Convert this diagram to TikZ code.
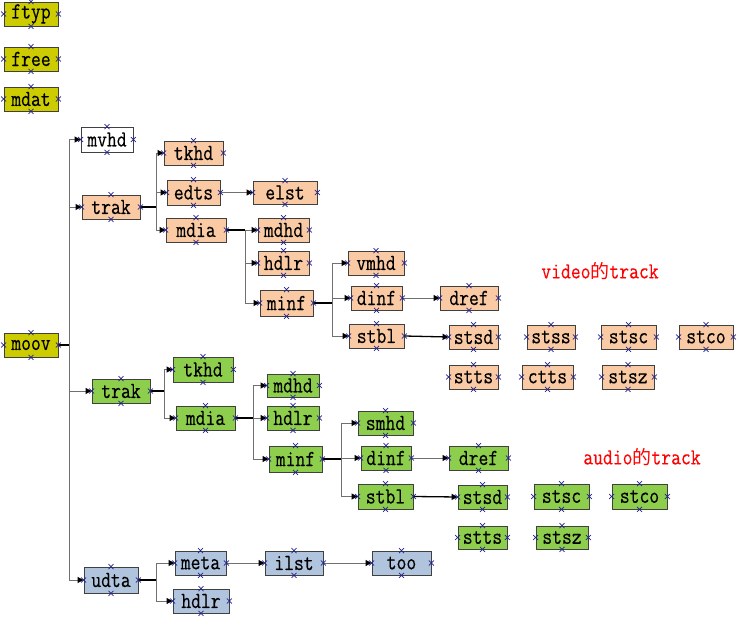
\documentclass[tikz,border=0pt]{standalone}
\usepackage{fontspec}
\newfontfamily\cjk{Noto Sans CJK SC}
\newfontfamily\boxfont{Latin Modern Mono}[FakeBold=0.4,FakeStretch=0.83]
\newfontfamily\lblfont{Latin Modern Mono}[FakeBold=0.2,FakeStretch=0.83]
\usetikzlibrary{arrows.meta}
\definecolor{yel}{HTML}{CCCC00}
\definecolor{org}{HTML}{F9CAA3}
\definecolor{grn}{HTML}{8DCF4C}
\definecolor{blu}{HTML}{B0C4DE}
\definecolor{edge}{HTML}{707070}
\definecolor{bord}{HTML}{404040}
\definecolor{cpc}{HTML}{22228C}
\newcommand\bx[7]{\node[box,#2,minimum width={(#4-#3)*1pt},minimum height={(#6-#5)*1pt}] (#1) at ({(#3+#4)/2},{(#5+#6)/2}) {#7};}
\begin{document}
\begin{tikzpicture}[x=1pt,y=-1pt,
  box/.style={draw=bord,line width=0.9pt,inner sep=0pt,font=\fontsize{23}{25}\selectfont\boxfont},
  yb/.style={fill=yel},
  ob/.style={fill=org},
  gb/.style={fill=grn},
  bb/.style={fill=blu},
  wb/.style={fill=white},
  conn/.style={draw=edge,line width=0.9pt,-{Triangle[length=6pt,width=6pt,color=black,fill=black]}},
  stem/.style={draw=black,line width=1.6pt},
  cp/.style={draw=cpc,line width=0.7pt},
  lbl/.style={text=red,font=\fontsize{23}{25}\selectfont\lblfont}]
\useasboundingbox (0,0) rectangle (739,620);
% boxes
\bx{ftyp}{yb}{4}{58}{2}{26}{ftyp}
\bx{free}{yb}{4}{58}{47}{71}{free}
\bx{mdat}{yb}{4}{58}{87}{111}{mdat}
\bx{mvhd}{wb}{81}{133}{127}{152}{mvhd}
\bx{trakv}{ob}{82}{140}{195}{219}{trak}
\bx{tkhdv}{ob}{164}{223}{141}{165}{tkhd}
\bx{edts}{ob}{167}{220}{180}{205}{edts}
\bx{mdiav}{ob}{166}{226}{218}{242}{mdia}
\bx{elst}{ob}{253}{317}{181}{204}{elst}
\bx{mdhdv}{ob}{258}{309}{218}{242}{mdhd}
\bx{hdlrv}{ob}{258}{309}{251}{275}{hdlr}
\bx{minfv}{ob}{260}{313}{290}{316}{minf}
\bx{vmhd}{ob}{348}{404}{251}{275}{vmhd}
\bx{dinfv}{ob}{351}{402}{286}{310}{dinf}
\bx{stblv}{ob}{349}{404}{324}{348}{stbl}
\bx{drefv}{ob}{440}{498}{286}{310}{dref}
\bx{stsdv}{ob}{449}{498}{325}{349}{stsd}
\bx{stss}{ob}{527}{575}{325}{349}{stss}
\bx{stscv}{ob}{601}{656}{325}{349}{stsc}
\bx{stcov}{ob}{679}{733}{325}{349}{stco}
\bx{sttsv}{ob}{449}{498}{365}{389}{stts}
\bx{ctts}{ob}{522}{573}{365}{389}{ctts}
\bx{stszv}{ob}{602}{654}{365}{389}{stsz}
\bx{moov}{yb}{4}{58}{333}{357}{moov}
\bx{traka}{gb}{92}{150}{379}{403}{trak}
\bx{tkhda}{gb}{173}{233}{357}{382}{tkhd}
\bx{mdiaa}{gb}{176}{235}{406}{430}{mdia}
\bx{mdhda}{gb}{267}{319}{374}{397}{mdhd}
\bx{hdlra}{gb}{267}{319}{406}{430}{hdlr}
\bx{minfa}{gb}{269}{322}{446}{472}{minf}
\bx{smhd}{gb}{358}{413}{411}{435}{smhd}
\bx{dinfa}{gb}{361}{411}{446}{470}{dinf}
\bx{stbla}{gb}{358}{413}{484}{509}{stbl}
\bx{drefa}{gb}{449}{508}{446}{470}{dref}
\bx{stsda}{gb}{458}{507}{485}{509}{stsd}
\bx{stsca}{gb}{534}{589}{484}{509}{stsc}
\bx{stcoa}{gb}{612}{667}{484}{509}{stco}
\bx{sttsa}{gb}{458}{507}{526}{549}{stts}
\bx{stsza}{gb}{536}{588}{526}{549}{stsz}
\bx{udta}{bb}{84}{138}{567}{593}{udta}
\bx{meta}{bb}{175}{226}{551}{575}{meta}
\bx{hdlru}{bb}{173}{229}{589}{613}{hdlr}
\bx{ilst}{bb}{265}{323}{551}{575}{ilst}
\bx{too}{bb}{372}{431}{551}{575}{too}
% labels
\node[lbl] (vlabel) at (600,271) {video{\cjk\fontsize{19}{21}\selectfont 的}track};
\node[lbl] (alabel) at (642,457) {audio{\cjk\fontsize{19}{21}\selectfont 的}track};
% branch points
\coordinate (bmoov) at (69,345);
\coordinate (btrakv) at (156,207);
\coordinate (bmdiav) at (245,230);
\coordinate (bminfv) at (332,303);
\coordinate (btraka) at (164,391);
\coordinate (bmdiaa) at (253,418);
\coordinate (bminfa) at (341,459);
\coordinate (budta) at (156,580);
% connectors
\foreach \s/\b in {moov/bmoov,trakv/btrakv,mdiav/bmdiav,minfv/bminfv,traka/btraka,mdiaa/bmdiaa,minfa/bminfa,udta/budta}
  \draw[stem] (\s.east) -- (\b);
\foreach \b/\t in {bmoov/mvhd,bmoov/trakv,bmoov/traka,bmoov/udta,
  btrakv/tkhdv,btrakv/edts,btrakv/mdiav,
  bmdiav/mdhdv,bmdiav/hdlrv,bmdiav/minfv,
  bminfv/vmhd,bminfv/dinfv,bminfv/stblv,
  btraka/tkhda,btraka/mdiaa,
  bmdiaa/mdhda,bmdiaa/hdlra,bmdiaa/minfa,
  bminfa/smhd,bminfa/dinfa,bminfa/stbla,
  budta/meta,budta/hdlru}
  \draw[conn] (\b) |- (\t.west);
\foreach \s/\t in {edts/elst,dinfv/drefv,dinfa/drefa,meta/ilst,ilst/too}
  \draw[conn] (\s.east) -- (\t.west);
\foreach \s/\t in {stblv/stsdv,stbla/stsda}
  \draw[conn,draw=black,line width=1.3pt] (\s.east) -- (\t.west);
% connection points
\foreach \n in {ftyp,free,mdat,mvhd,trakv,tkhdv,edts,mdiav,elst,mdhdv,hdlrv,minfv,vmhd,dinfv,stblv,drefv,stsdv,stss,stscv,stcov,sttsv,ctts,stszv,moov,traka,tkhda,mdiaa,mdhda,hdlra,minfa,smhd,dinfa,stbla,drefa,stsda,stsca,stcoa,sttsa,stsza,udta,meta,hdlru,ilst,too}
  \foreach \a in {north,south,east,west}
    \draw[cp] (\n.\a) +(-2.5,-2.5) -- +(2.5,2.5) +(-2.5,2.5) -- +(2.5,-2.5);
\end{tikzpicture}
\end{document}
